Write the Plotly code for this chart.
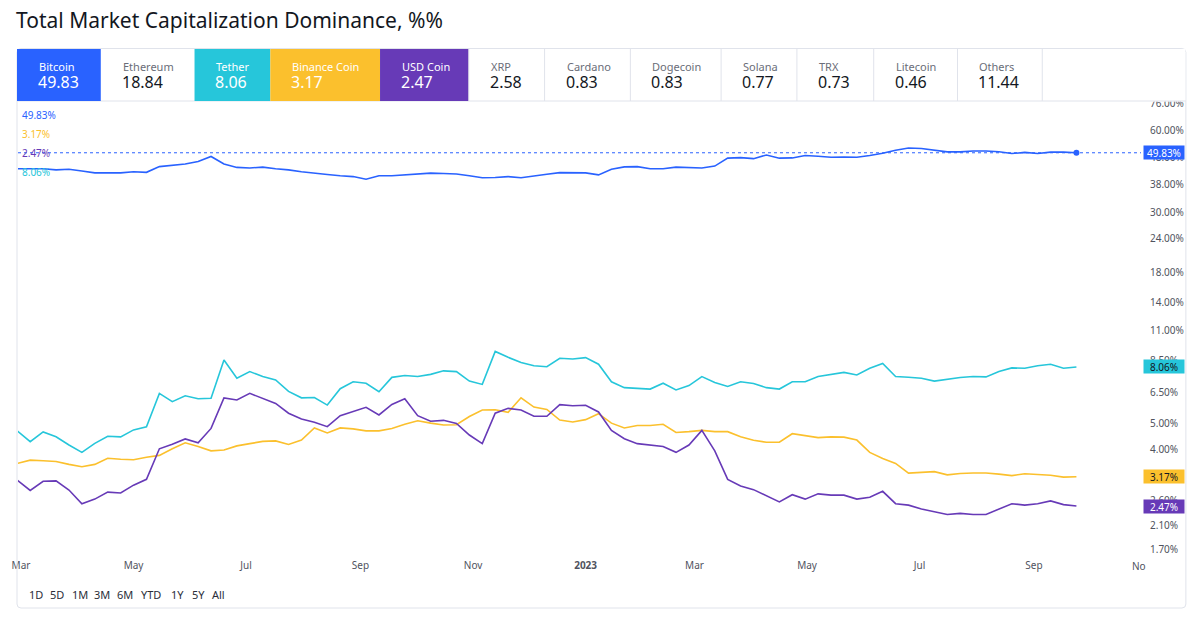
import math
import pandas as pd
import plotly.graph_objects as go

# ---------------- data ----------------
dates = pd.date_range("2022-02-27", periods=83, freq="7D")

bitcoin = [43.5, 43.4, 43.5, 43.1, 43.3, 42.7, 42.0, 42.0, 42.0, 42.4,
           42.2, 44.3, 44.8, 45.3, 46.3, 48.3, 45.3, 44.0, 43.8, 44.1,
           43.5, 43.1, 42.4, 41.8, 41.4, 41.0, 40.7, 39.8, 41.0, 41.0,
           41.3, 41.5, 41.9, 41.8, 41.6, 41.0, 40.3, 40.4, 40.7, 40.3,
           40.8, 41.5, 42.1, 42.1, 42.0, 41.3, 43.3, 44.2, 44.3, 43.5,
           43.5, 44.1, 44.0, 43.8, 44.5, 47.6, 47.8, 47.4, 48.9, 47.6,
           47.7, 48.7, 48.4, 48.0, 48.1, 48.0, 48.7, 49.6, 50.9, 51.9,
           51.7, 50.9, 50.2, 50.2, 50.6, 50.6, 50.3, 49.5, 50.0, 49.5,
           50.1, 50.1, 49.83]

tether = [4.68, 4.27, 4.64, 4.45, 4.15, 3.90, 4.21, 4.47, 4.45, 4.72,
          4.85, 6.44, 6.00, 6.31, 6.15, 6.18, 8.55, 7.32, 7.75, 7.43,
          7.22, 6.55, 6.20, 6.22, 5.83, 6.70, 7.11, 7.02, 6.53, 7.38,
          7.50, 7.43, 7.57, 7.80, 7.75, 7.15, 6.95, 9.20, 8.75, 8.37,
          8.15, 8.08, 8.68, 8.63, 8.73, 8.25, 7.11, 6.76, 6.72, 6.68,
          7.02, 6.63, 6.88, 7.43, 7.07, 6.83, 7.11, 7.00, 6.76, 6.68,
          7.11, 7.11, 7.43, 7.57, 7.70, 7.53, 7.97, 8.31, 7.43, 7.39,
          7.32, 7.15, 7.28, 7.37, 7.43, 7.41, 7.75, 8.00, 7.97, 8.15,
          8.25, 7.97, 8.06]

binance = [3.55, 3.65, 3.63, 3.61, 3.52, 3.45, 3.52, 3.71, 3.68, 3.66,
           3.74, 3.80, 4.02, 4.23, 4.10, 3.95, 3.98, 4.12, 4.20, 4.28,
           4.30, 4.17, 4.33, 4.80, 4.60, 4.80, 4.76, 4.68, 4.68, 4.78,
           4.95, 5.10, 5.00, 4.92, 4.93, 5.29, 5.59, 5.60, 5.48, 6.20,
           5.73, 5.62, 5.13, 5.05, 5.15, 5.42, 5.00, 4.80, 4.90, 4.90,
           4.95, 4.62, 4.65, 4.70, 4.65, 4.65, 4.45, 4.32, 4.25, 4.25,
           4.57, 4.48, 4.42, 4.45, 4.44, 4.33, 3.90, 3.70, 3.55, 3.27,
           3.30, 3.31, 3.22, 3.26, 3.27, 3.27, 3.24, 3.20, 3.25, 3.24,
           3.21, 3.16, 3.17]

usd_coin = [3.08, 2.82, 3.05, 3.06, 2.83, 2.52, 2.62, 2.78, 2.76, 2.95,
            3.10, 4.02, 4.18, 4.37, 4.23, 4.78, 6.20, 6.09, 6.44, 6.18,
            5.91, 5.44, 5.18, 5.04, 4.85, 5.33, 5.51, 5.72, 5.36, 5.86,
            6.15, 5.33, 5.08, 5.12, 4.99, 4.52, 4.20, 5.44, 5.67, 5.59,
            5.30, 5.30, 5.85, 5.80, 5.82, 5.50, 4.70, 4.38, 4.20, 4.15,
            4.10, 3.90, 4.15, 4.70, 3.95, 3.10, 2.93, 2.84, 2.70, 2.56,
            2.72, 2.62, 2.74, 2.71, 2.71, 2.62, 2.66, 2.80, 2.52, 2.49,
            2.41, 2.36, 2.30, 2.32, 2.30, 2.30, 2.40, 2.52, 2.49, 2.52,
            2.58, 2.50, 2.47]

tile_names = ["Bitcoin", "Ethereum", "Tether", "Binance Coin", "USD Coin", "XRP",
              "Cardano", "Dogecoin", "Solana", "TRX", "Litecoin", "Others"]
tile_values = ["49.83", "18.84", "8.06", "3.17", "2.47", "2.58",
               "0.83", "0.83", "0.77", "0.73", "0.46", "11.44"]

ytick_vals = [1.7, 2.1, 2.6, 3.1, 4.0, 5.0, 6.5, 8.5, 11, 14, 18, 24, 30, 38, 48, 60, 76]
xtick_dates = ["2022-03-01", "2022-05-01", "2022-07-01", "2022-09-01", "2022-11-01",
               "2023-01-01", "2023-03-01", "2023-05-01", "2023-07-01", "2023-09-01"]
xtick_text = ["Mar", "May", "Jul", "Sep", "Nov", "<b>2023</b>", "Mar", "May", "Jul", "Sep"]
range_buttons = ["1D", "5D", "1M", "3M", "6M", "YTD", "1Y", "5Y", "All"]

# ---------------- styles ----------------
BLUE = "#2962FF"
CYAN = "#26C6DA"
YELLOW = "#FBC02D"
PURPLE = "#673AB7"
BORDER = "#E0E3EB"
TEXT = "#131722"
SCALE_TEXT = "#50535E"
FONT = "Noto Sans"

W, H = 1200, 619
PL, PR, PT, PB = 15, 1141, 101, 558
PAD = 3  # annotation inner padding compensation


def px(x):
    return (x - PL) / (PR - PL)


def py(y):
    return (PB - y) / (PB - PT)


series = [
    ("Bitcoin", bitcoin, BLUE, "white"),
    ("Tether", tether, CYAN, TEXT),
    ("Binance Coin", binance, YELLOW, TEXT),
    ("USD Coin", usd_coin, PURPLE, "white"),
]

fig = go.Figure()
for name, vals, col, _ in series:
    fig.add_trace(go.Scatter(x=dates, y=vals, mode="lines", name=name,
                             line=dict(color=col, width=1.6), hoverinfo="skip"))
fig.add_trace(go.Scatter(x=[dates[-1]], y=[bitcoin[-1]], mode="markers",
                         marker=dict(color=BLUE, size=6), hoverinfo="skip"))

shapes = []
annotations = []

# outer frame (rounded)
r = 4
x0, x1, y0, y1 = 14, 1186, 48.5, 608
path = (f"M {px(x0 + r)},{py(y0)} L {px(x1 - r)},{py(y0)} Q {px(x1)},{py(y0)} {px(x1)},{py(y0 + r)} "
        f"L {px(x1)},{py(y1 - r)} Q {px(x1)},{py(y1)} {px(x1 - r)},{py(y1)} "
        f"L {px(x0 + r)},{py(y1)} Q {px(x0)},{py(y1)} {px(x0)},{py(y1 - r)} "
        f"L {px(x0)},{py(y0 + r)} Q {px(x0)},{py(y0)} {px(x0 + r)},{py(y0)} Z")
shapes.append(dict(type="path", path=path, xref="paper", yref="paper",
                   line=dict(color=BORDER, width=1), fillcolor="rgba(0,0,0,0)", layer="above"))

# header row background (also clips the top tick label)
shapes.append(dict(type="rect", xref="paper", yref="paper", x0=px(14.5), x1=px(1185.5),
                   y0=py(101.5), y1=py(49), fillcolor="white", line=dict(width=0), layer="above"))
shapes.append(dict(type="line", xref="paper", yref="paper", x0=px(14), x1=px(1186),
                   y0=py(101), y1=py(101), line=dict(color=BORDER, width=1), layer="above"))

tile_edges = [14, 98, 192, 268, 378, 467, 543, 629, 720, 796, 873, 957, 1042]
tile_colors = [BLUE, None, CYAN, YELLOW, PURPLE, None, None, None, None, None, None, None]
for i, name in enumerate(tile_names):
    xl, xr = tile_edges[i], tile_edges[i + 1]
    col = tile_colors[i]
    if col:
        shapes.append(dict(type="rect", xref="paper", yref="paper", x0=px(xl), x1=px(xr),
                           y0=py(101), y1=py(49), fillcolor=col, line=dict(width=0), layer="above"))
        lab_c, val_c = "white", "white"
    else:
        lab_c, val_c = "#6A6D78", TEXT
    annotations.append(dict(x=px(xl + 23 - PAD), y=py(66), xref="paper", yref="paper", text=name,
                            showarrow=False, xanchor="left", yanchor="middle",
                            font=dict(family=FONT, size=11, color=lab_c)))
    annotations.append(dict(x=px(xl + 22 - PAD), y=py(82), xref="paper", yref="paper", text=tile_values[i],
                            showarrow=False, xanchor="left", yanchor="middle",
                            font=dict(family=FONT, size=16, color=val_c)))
for e in [467, 543, 629, 720, 796, 873, 957, 1042]:
    shapes.append(dict(type="line", xref="paper", yref="paper", x0=px(e), x1=px(e),
                       y0=py(101), y1=py(49), line=dict(color=BORDER, width=1), layer="above"))

# title
annotations.append(dict(x=px(14 - PAD), y=py(20), xref="paper", yref="paper",
                        text="Total Market Capitalization Dominance, %%", showarrow=False,
                        xanchor="left", yanchor="middle", font=dict(family=FONT, size=21, color=TEXT)))

# dotted last-value line for Bitcoin
shapes.append(dict(type="line", xref="paper", yref="y", x0=0, x1=1,
                   y0=bitcoin[-1], y1=bitcoin[-1],
                   line=dict(color=BLUE, width=1, dash="dot"), layer="below"))

# price-scale value boxes
for name, vals, col, tc in series:
    annotations.append(dict(x=px(1143), y=math.log10(vals[-1]), xref="paper", yref="y",
                            text=f"{vals[-1]:.2f}%", showarrow=False, xanchor="left", yanchor="middle",
                            bgcolor=col, width=38, height=11, borderpad=1,
                            font=dict(family=FONT, size=10, color=tc)))

# status-line values (left)
status = [(bitcoin[-1], BLUE, 115), (binance[-1], YELLOW, 134),
          (usd_coin[-1], PURPLE, 153), (tether[-1], CYAN, 172)]
for v, col, yy in status:
    annotations.append(dict(x=px(20 - PAD), y=py(yy), xref="paper", yref="paper", text=f"{v:.2f}%",
                            showarrow=False, xanchor="left", yanchor="middle",
                            font=dict(family=FONT, size=10, color=col)))

# clipped Nov label at right edge
annotations.append(dict(x=px(1139), y=py(566), xref="paper", yref="paper", text="No",
                        showarrow=False, xanchor="center", yanchor="middle",
                        font=dict(family=FONT, size=10, color=SCALE_TEXT)))

# range buttons
btn_x = [27, 48, 70, 92, 115, 139, 169, 190, 211]
for t, bx in zip(range_buttons, btn_x):
    annotations.append(dict(x=px(bx - PAD), y=py(594), xref="paper", yref="paper", text=t,
                            showarrow=False, xanchor="left", yanchor="middle",
                            font=dict(family=FONT, size=11, color="#2A2E39")))

fig.update_layout(
    width=W, height=H,
    margin=dict(l=PL, r=W - PR, t=PT, b=H - PB),
    paper_bgcolor="white", plot_bgcolor="white",
    showlegend=False,
    font=dict(family=FONT, color=SCALE_TEXT),
    shapes=shapes, annotations=annotations,
    xaxis=dict(type="date", range=["2022-02-27 09:00", "2023-10-29"],
               tickvals=xtick_dates, ticktext=xtick_text, showgrid=False, zeroline=False,
               showline=False, ticks="", tickfont=dict(family=FONT, size=10, color=SCALE_TEXT),
               fixedrange=True),
    yaxis=dict(type="log", side="right", range=[math.log10(1.588), math.log10(77.4)],
               tickvals=ytick_vals, ticktext=[f"{v:.2f}%" for v in ytick_vals],
               showgrid=False, zeroline=False, showline=False, ticks="",
               ticklabelstandoff=8,
               tickfont=dict(family=FONT, size=10, color=SCALE_TEXT), fixedrange=True),
)

fig.write_html("out.html")
